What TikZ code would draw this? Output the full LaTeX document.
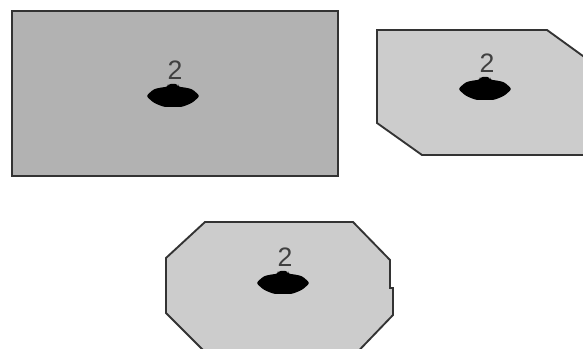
\documentclass[tikz,border=0pt]{standalone}
\usepackage{fontspec}
\setmainfont{Liberation Sans}
\begin{document}
\begin{tikzpicture}[x=0.75pt,y=-0.75pt,
  outline/.style={draw=black!80, line width=1.4pt, line join=miter},
  darkpanel/.style={outline, fill=black!30},
  lightpanel/.style={outline, fill=black!20},
  digit/.style={font=\fontsize{20}{20}\selectfont, text=black!75, inner sep=0pt},
  blob/.style={fill=black, draw=none, rounded corners=2pt}]
\useasboundingbox (0,0) rectangle (583,349);
\fill[white] (0,0) rectangle (583,349);
\begin{scope}
\clip (0,0) rectangle (583,349);
% rectangular panel
\draw[darkpanel] (12,11) rectangle (338,176);
% panel with two cut corners
\draw[lightpanel] (377,30) -- (547,30) -- (605,72) -- (605,155) -- (422,155) -- (377,123) -- cycle;
% octagonal panel
\draw[lightpanel] (205,222) -- (353,222) -- (390,260) -- (390,288) -- (393,288) -- (393,315) -- (345,365)
  -- (218,365) -- (166,313) -- (166,258) -- cycle;
\end{scope}
% hole markers with their labels
\foreach \name/\cx/\cy in {a/173/96, b/485/89, c/283/283}{
  \fill[blob] (\cx-27,\cy) -- (\cx-19,\cy-7) -- (\cx-9,\cy-9) -- (\cx-5,\cy-9) -- (\cx-5,\cy-12)
    -- (\cx+5,\cy-12) -- (\cx+5,\cy-9) -- (\cx+9,\cy-9) -- (\cx+19,\cy-7) -- (\cx+27,\cy)
    -- (\cx+19,\cy+7) -- (\cx+9,\cy+11) -- (\cx-9,\cy+11) -- (\cx-19,\cy+7) -- cycle;
  \node[digit] (label\name) at (\cx+2,\cy-26) {2};
}
\end{tikzpicture}
\end{document}
